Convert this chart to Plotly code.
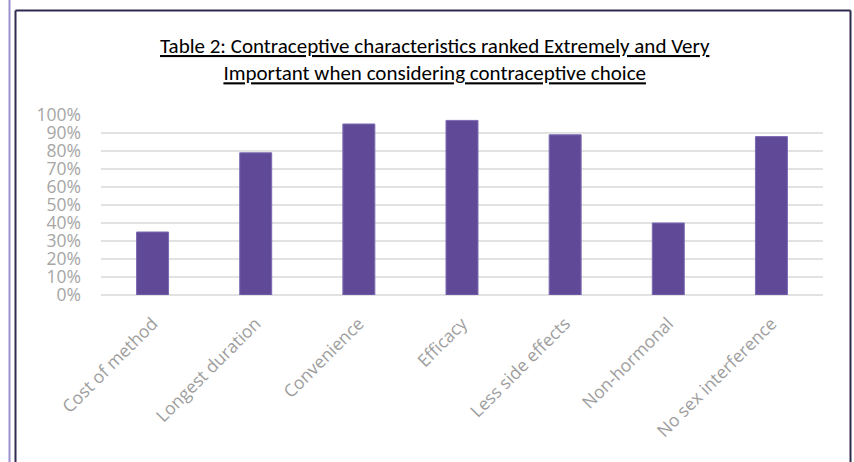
import plotly.graph_objects as go

categories = ["Cost of method", "Longest duration", "Convenience", "Efficacy",
              "Less side effects", "Non-hormonal", "No sex interference"]
values = [0.35, 0.79, 0.95, 0.97, 0.89, 0.40, 0.88]
y_ticks = [0, 0.1, 0.2, 0.3, 0.4, 0.5, 0.6, 0.7, 0.8, 0.9, 1.0]
y_tick_labels = ["0%", "10%", "20%", "30%", "40%", "50%", "60%", "70%", "80%", "90%", "100%"]
title_lines = ["Table 2: Contraceptive characteristics ranked Extremely and Very",
               "Important when considering contraceptive choice"]

W, H = 854, 462
L, R, T, B = 101, 823, 115, 295  # plot area in pixels


def px_x(p):
    return (p - L) / (R - L)


def px_y(p):
    return (B - p) / (B - T)


fig = go.Figure()
fig.add_trace(go.Bar(
    x=categories, y=values,
    marker=dict(color="#604A98", line=dict(color="#7B69B2", width=1)),
    width=0.31,
))

shapes = [
    dict(type="line", xref="paper", yref="paper", x0=px_x(9.5), x1=px_x(9.5),
         y0=px_y(-5), y1=px_y(470), line=dict(color="#9C8FD0", width=2)),
    dict(type="line", xref="paper", yref="paper", x0=px_x(15.5), x1=px_x(15.5),
         y0=px_y(10.5), y1=px_y(470), line=dict(color="#2E2A4F", width=2)),
    dict(type="line", xref="paper", yref="paper", x0=px_x(15.5), x1=px_x(850.5),
         y0=px_y(10.5), y1=px_y(10.5), line=dict(color="#2E2A4F", width=2)),
    dict(type="line", xref="paper", yref="paper", x0=px_x(850.5), x1=px_x(850.5),
         y0=px_y(10.5), y1=px_y(470), line=dict(color="#2E2A4F", width=2)),
]

fig.add_annotation(
    text="<br>".join(title_lines),
    xref="paper", yref="paper", x=px_x(435), y=px_y(59),
    xanchor="center", yanchor="middle", showarrow=False,
    font=dict(family="Carlito, Lato, sans-serif", size=21, color="#000000",
              lineposition="under"),
)

fig.update_layout(
    width=W, height=H,
    margin=dict(l=L, r=W - R, t=T, b=H - B, pad=0),
    paper_bgcolor="white", plot_bgcolor="white",
    showlegend=False,
    shapes=shapes,
    bargap=0.69,
    xaxis=dict(
        tickangle=-45, showgrid=False, showline=False, ticks="",
        ticklabelstandoff=14,
        tickfont=dict(family="Open Sans, sans-serif", size=17.5, color="#9E9E9E"),
        range=[-0.5, 6.5],
    ),
    yaxis=dict(
        range=[0, 1.0], tickvals=y_ticks, ticktext=y_tick_labels,
        showgrid=True, gridcolor="#E2E2E2", gridwidth=1.5,
        zeroline=True, zerolinecolor="#E2E2E2", zerolinewidth=1.5,
        showline=False, ticks="", ticklabelstandoff=19,
        tickfont=dict(family="Open Sans, sans-serif", size=17.5, color="#A6A6A6"),
    ),
)

fig.write_html("out.html")
